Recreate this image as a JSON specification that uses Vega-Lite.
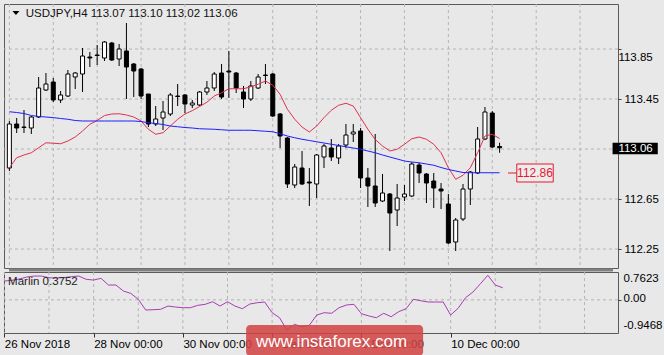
{
  "$schema": "https://vega.github.io/schema/vega-lite/v6.json",
  "background": "#e8e8e8",
  "padding": {"left": 3, "top": 3, "right": 0, "bottom": 0},
  "bounds": "flush",
  "spacing": 4,
  "config": {
    "view": {"stroke": "#5a5a5a", "strokeWidth": 1},
    "axis": {"labelFont": "Liberation Sans", "labelFontSize": 11.5, "labelColor": "#000000", "domain": false, "tickColor": "#444444", "tickWidth": 1, "labelOverlap": false},
    "text": {"font": "Liberation Sans"}
  },
  "datasets": {
    "grid": [{"g":0},{"g":6},{"g":12},{"g":18},{"g":24},{"g":30},{"g":36},{"g":42},{"g":48},{"g":54},{"g":60},{"g":66},{"g":72},{"g":78}],
    "hgrid": [{"p":112.25},{"p":112.65},{"p":113.05},{"p":113.45},{"p":113.85}],
    "bars": [
      {"i":0,"o":112.898,"h":113.274,"l":112.874,"c":113.250,"r":112.900,"b":113.348,"m":0.584},
      {"i":1,"o":113.250,"h":113.298,"l":113.178,"c":113.218,"r":112.980,"b":113.342,"m":0.606},
      {"i":2,"o":113.226,"h":113.362,"l":113.178,"c":113.222,"r":113.002,"b":113.334,"m":0.646},
      {"i":3,"o":113.218,"h":113.314,"l":113.170,"c":113.306,"r":113.020,"b":113.318,"m":0.708},
      {"i":4,"o":113.306,"h":113.626,"l":113.298,"c":113.538,"r":113.060,"b":113.310,"m":0.739},
      {"i":5,"o":113.522,"h":113.658,"l":113.514,"c":113.570,"r":113.100,"b":113.306,"m":0.739},
      {"i":6,"o":113.586,"h":113.618,"l":113.426,"c":113.442,"r":113.096,"b":113.301,"m":0.686},
      {"i":7,"o":113.442,"h":113.514,"l":113.418,"c":113.482,"r":113.092,"b":113.294,"m":0.677},
      {"i":8,"o":113.474,"h":113.682,"l":113.466,"c":113.650,"r":113.114,"b":113.288,"m":0.690},
      {"i":9,"o":113.626,"h":113.666,"l":113.530,"c":113.658,"r":113.146,"b":113.278,"m":0.720},
      {"i":10,"o":113.650,"h":113.858,"l":113.506,"c":113.794,"r":113.194,"b":113.274,"m":0.739},
      {"i":11,"o":113.786,"h":113.826,"l":113.706,"c":113.778,"r":113.248,"b":113.274,"m":0.637},
      {"i":12,"o":113.802,"h":113.882,"l":113.722,"c":113.798,"r":113.278,"b":113.274,"m":0.615},
      {"i":13,"o":113.778,"h":113.914,"l":113.754,"c":113.906,"r":113.318,"b":113.274,"m":0.668},
      {"i":14,"o":113.898,"h":113.906,"l":113.754,"c":113.762,"r":113.330,"b":113.274,"m":0.460},
      {"i":15,"o":113.770,"h":113.890,"l":113.714,"c":113.850,"r":113.332,"b":113.274,"m":0.460},
      {"i":16,"o":113.834,"h":114.058,"l":113.450,"c":113.706,"r":113.322,"b":113.274,"m":0.273},
      {"i":17,"o":113.730,"h":113.738,"l":113.466,"c":113.674,"r":113.306,"b":113.274,"m":0.200},
      {"i":18,"o":113.690,"h":113.698,"l":113.450,"c":113.474,"r":113.274,"b":113.270,"m":0.016},
      {"i":19,"o":113.490,"h":113.490,"l":113.226,"c":113.250,"r":113.208,"b":113.260,"m":-0.317},
      {"i":20,"o":113.250,"h":113.394,"l":113.234,"c":113.290,"r":113.168,"b":113.254,"m":-0.307},
      {"i":21,"o":113.298,"h":113.434,"l":113.202,"c":113.346,"r":113.180,"b":113.246,"m":-0.295},
      {"i":22,"o":113.330,"h":113.498,"l":113.314,"c":113.482,"r":113.234,"b":113.234,"m":-0.193},
      {"i":23,"o":113.474,"h":113.570,"l":113.394,"c":113.470,"r":113.288,"b":113.228,"m":-0.224},
      {"i":24,"o":113.482,"h":113.490,"l":113.338,"c":113.410,"r":113.330,"b":113.222,"m":-0.245},
      {"i":25,"o":113.402,"h":113.442,"l":113.378,"c":113.418,"r":113.357,"b":113.218,"m":-0.245},
      {"i":26,"o":113.402,"h":113.514,"l":113.394,"c":113.506,"r":113.390,"b":113.212,"m":-0.171},
      {"i":27,"o":113.506,"h":113.594,"l":113.482,"c":113.538,"r":113.424,"b":113.210,"m":-0.140},
      {"i":28,"o":113.538,"h":113.666,"l":113.514,"c":113.650,"r":113.474,"b":113.208,"m":-0.059},
      {"i":29,"o":113.658,"h":113.730,"l":113.450,"c":113.466,"r":113.500,"b":113.204,"m":-0.193},
      {"i":30,"o":113.674,"h":113.834,"l":113.458,"c":113.666,"r":113.532,"b":113.200,"m":-0.059},
      {"i":31,"o":113.658,"h":113.666,"l":113.498,"c":113.538,"r":113.532,"b":113.200,"m":-0.193},
      {"i":32,"o":113.506,"h":113.554,"l":113.378,"c":113.450,"r":113.532,"b":113.200,"m":-0.276},
      {"i":33,"o":113.450,"h":113.594,"l":113.434,"c":113.554,"r":113.548,"b":113.200,"m":-0.130},
      {"i":34,"o":113.538,"h":113.650,"l":113.530,"c":113.626,"r":113.568,"b":113.196,"m":-0.090},
      {"i":35,"o":113.642,"h":113.730,"l":113.570,"c":113.638,"r":113.594,"b":113.192,"m":-0.068},
      {"i":36,"o":113.650,"h":113.658,"l":113.306,"c":113.314,"r":113.560,"b":113.188,"m":-0.400},
      {"i":37,"o":113.330,"h":113.338,"l":113.058,"c":113.154,"r":113.488,"b":113.172,"m":-0.556},
      {"i":38,"o":113.138,"h":113.146,"l":112.738,"c":112.770,"r":113.368,"b":113.154,"m":-0.9468},
      {"i":39,"o":112.762,"h":112.930,"l":112.738,"c":112.906,"r":113.288,"b":113.140,"m":-0.761},
      {"i":40,"o":112.898,"h":113.034,"l":112.762,"c":112.770,"r":113.226,"b":113.128,"m":-0.835},
      {"i":41,"o":112.786,"h":112.898,"l":112.594,"c":112.778,"r":113.186,"b":113.118,"m":-0.792},
      {"i":42,"o":112.770,"h":113.010,"l":112.658,"c":113.002,"r":113.234,"b":113.108,"m":-0.472},
      {"i":43,"o":112.986,"h":113.090,"l":112.898,"c":113.074,"r":113.301,"b":113.098,"m":-0.400},
      {"i":44,"o":113.058,"h":113.130,"l":112.954,"c":112.986,"r":113.360,"b":113.088,"m":-0.419},
      {"i":45,"o":112.978,"h":113.090,"l":112.930,"c":113.074,"r":113.400,"b":113.078,"m":-0.245},
      {"i":46,"o":113.082,"h":113.250,"l":113.058,"c":113.162,"r":113.416,"b":113.068,"m":-0.160},
      {"i":47,"o":113.170,"h":113.250,"l":113.106,"c":113.186,"r":113.394,"b":113.058,"m":-0.140},
      {"i":48,"o":113.194,"h":113.218,"l":112.738,"c":112.818,"r":113.301,"b":113.048,"m":-0.432},
      {"i":49,"o":112.818,"h":112.898,"l":112.586,"c":112.754,"r":113.208,"b":113.034,"m":-0.500},
      {"i":50,"o":112.754,"h":113.170,"l":112.586,"c":112.618,"r":113.126,"b":113.020,"m":-0.556},
      {"i":51,"o":112.634,"h":112.850,"l":112.626,"c":112.698,"r":113.074,"b":113.002,"m":-0.419},
      {"i":52,"o":112.690,"h":112.698,"l":112.234,"c":112.538,"r":113.034,"b":112.986,"m":-0.525},
      {"i":53,"o":112.562,"h":112.770,"l":112.434,"c":112.658,"r":113.048,"b":112.970,"m":-0.370},
      {"i":54,"o":112.666,"h":112.762,"l":112.634,"c":112.690,"r":113.088,"b":112.954,"m":-0.276},
      {"i":55,"o":112.674,"h":112.946,"l":112.666,"c":112.930,"r":113.132,"b":112.946,"m":0.016},
      {"i":56,"o":112.922,"h":112.938,"l":112.778,"c":112.858,"r":113.146,"b":112.940,"m":-0.030},
      {"i":57,"o":112.850,"h":112.858,"l":112.618,"c":112.778,"r":113.128,"b":112.930,"m":-0.068},
      {"i":58,"o":112.794,"h":112.858,"l":112.578,"c":112.738,"r":113.088,"b":112.920,"m":-0.068},
      {"i":59,"o":112.730,"h":112.778,"l":112.570,"c":112.714,"r":113.020,"b":112.902,"m":-0.068},
      {"i":60,"o":112.610,"h":112.690,"l":112.290,"c":112.298,"r":112.900,"b":112.886,"m":-0.472},
      {"i":61,"o":112.306,"h":112.498,"l":112.234,"c":112.482,"r":112.808,"b":112.874,"m":-0.264},
      {"i":62,"o":112.490,"h":112.770,"l":112.474,"c":112.730,"r":112.840,"b":112.862,"m":0.065},
      {"i":63,"o":112.730,"h":112.874,"l":112.602,"c":112.866,"r":112.900,"b":112.860,"m":0.242},
      {"i":64,"o":112.858,"h":113.226,"l":112.850,"c":113.130,"r":113.020,"b":112.860,"m":0.500},
      {"i":65,"o":113.130,"h":113.386,"l":113.122,"c":113.346,"r":113.154,"b":112.860,"m":0.7623},
      {"i":66,"o":113.338,"h":113.354,"l":113.058,"c":113.066,"r":113.168,"b":112.860,"m":0.460},
      {"i":67,"o":113.07,"h":113.10,"l":113.02,"c":113.06,"r":113.134,"b":112.860,"m":0.3752}
    ]
  },
  "vconcat": [
    {
      "width": 614,
      "height": 264,
      "layer": [
        {
          "data": {"name": "grid"},
          "mark": {"type": "rule", "color": "#b4b4b4", "strokeWidth": 1, "strokeDash": [3, 3]},
          "encoding": {
            "x": {"field": "g", "type": "quantitative", "scale": {"domain": [-0.05, 82.5], "nice": false, "zero": false},
              "axis": {"title": null, "grid": false, "labels": false, "ticks": false, "domain": false}}
          }
        },
        {
          "data": {"name": "hgrid"},
          "mark": {"type": "rule", "color": "#b4b4b4", "strokeWidth": 1, "strokeDash": [3, 3]},
          "encoding": {
            "y": {"field": "p", "type": "quantitative", "scale": {"domain": [112.098, 114.21], "nice": false, "zero": false},
              "axis": {"title": null, "orient": "right", "values": [112.25, 112.65, 113.05, 113.45, 113.85], "grid": false, "ticks": true, "tickSize": 3, "labelPadding": 3,
                "labelExpr": "(datum.value > 113.0 && datum.value < 113.1) || datum.value > 113.8 ? '' : format(datum.value, '.2f')"}}
          }
        },
        {
          "data": {"name": "bars"},
          "mark": {"type": "rule", "color": "#000000", "strokeWidth": 1, "clip": true},
          "encoding": {
            "x": {"field": "i", "type": "quantitative"},
            "y": {"field": "l", "type": "quantitative"},
            "y2": {"field": "h"}
          }
        },
        {
          "data": {"name": "bars"},
          "mark": {"type": "bar", "width": 4, "stroke": "#000000", "strokeWidth": 1, "clip": true},
          "encoding": {
            "x": {"field": "i", "type": "quantitative"},
            "y": {"field": "o", "type": "quantitative"},
            "y2": {"field": "c"},
            "fill": {"condition": {"test": "datum.c >= datum.o", "value": "#ffffff"}, "value": "#000000"}
          }
        },
        {
          "data": {"name": "bars"},
          "mark": {"type": "line", "color": "#e0304e", "strokeWidth": 1, "clip": true},
          "encoding": {
            "x": {"field": "i", "type": "quantitative"},
            "y": {"field": "r", "type": "quantitative"}
          }
        },
        {
          "data": {"name": "bars"},
          "mark": {"type": "line", "color": "#1e1eff", "strokeWidth": 1, "clip": true},
          "encoding": {
            "x": {"field": "i", "type": "quantitative"},
            "y": {"field": "b", "type": "quantitative"}
          }
        },
        {
          "data": {"values": [{}]},
          "mark": {"type": "rule", "color": "#e8162e", "strokeWidth": 1},
          "encoding": {
            "x": {"datum": 68.15, "type": "quantitative"},
            "x2": {"datum": 69.35},
            "y": {"datum": 112.858, "type": "quantitative"}
          }
        },
        {
          "data": {"values": [{}]},
          "mark": {"type": "rect", "fill": "#ececec", "stroke": "#e8162e", "strokeWidth": 1},
          "encoding": {
            "x": {"datum": 69.35, "type": "quantitative"},
            "x2": {"datum": 74.33},
            "y": {"datum": 112.786, "type": "quantitative"},
            "y2": {"datum": 112.93}
          }
        },
        {
          "data": {"values": [{}]},
          "mark": {"type": "text", "text": "112.86", "color": "#e8162e", "fontSize": 12, "align": "center", "baseline": "middle"},
          "encoding": {
            "x": {"datum": 71.84, "type": "quantitative"},
            "y": {"datum": 112.858, "type": "quantitative"}
          }
        },
        {
          "data": {"values": [{}]},
          "mark": {"type": "point", "shape": "M-1,-0.6L1,-0.6L0,0.6Z", "size": 49, "filled": true, "color": "#000000", "opacity": 1},
          "encoding": {
            "x": {"datum": 0.9, "type": "quantitative"},
            "y": {"datum": 114.138, "type": "quantitative"}
          }
        },
        {
          "data": {"values": [{}]},
          "mark": {"type": "text", "text": "USDJPY,H4 113.07 113.10 113.02 113.06", "color": "#111111", "fontSize": 11.5, "align": "left", "baseline": "middle"},
          "encoding": {
            "x": {"datum": 2.24, "type": "quantitative"},
            "y": {"datum": 114.134, "type": "quantitative"}
          }
        },
        {
          "data": {"values": [{}]},
          "mark": {"type": "text", "text": "113.85", "color": "#000000", "fontSize": 11.5, "align": "left", "baseline": "middle", "clip": false},
          "encoding": {
            "x": {"datum": 83.24, "type": "quantitative"},
            "y": {"datum": 113.778, "type": "quantitative"}
          }
        },
        {
          "data": {"values": [{}]},
          "mark": {"type": "rect", "fill": "#000000", "clip": false},
          "encoding": {
            "x": {"datum": 82.44, "type": "quantitative"},
            "x2": {"datum": 88.62},
            "y": {"datum": 113.100, "type": "quantitative"},
            "y2": {"datum": 113.008}
          }
        },
        {
          "data": {"values": [{}]},
          "mark": {"type": "text", "text": "113.06", "color": "#ffffff", "fontSize": 11.5, "align": "left", "baseline": "middle", "clip": false},
          "encoding": {
            "x": {"datum": 83.24, "type": "quantitative"},
            "y": {"datum": 113.054, "type": "quantitative"}
          }
        },
        {
          "data": {"values": [{}]},
          "mark": {"type": "rule", "color": "#808080", "strokeWidth": 3, "clip": false},
          "encoding": {
            "x": {"datum": -0.05, "type": "quantitative"},
            "x2": {"datum": 82.5},
            "y": {"datum": 112.082, "type": "quantitative"}
          }
        }
      ]
    },
    {
      "width": 614,
      "height": 61,
      "layer": [
        {
          "data": {"name": "grid"},
          "mark": {"type": "rule", "color": "#b4b4b4", "strokeWidth": 1, "strokeDash": [3, 3]},
          "encoding": {
            "x": {"field": "g", "type": "quantitative", "scale": {"domain": [-0.05, 82.5], "nice": false, "zero": false},
              "axis": {"title": null, "orient": "bottom", "values": [0, 6, 12, 18, 24, 30, 36, 42, 48, 54, 60, 66, 72, 78], "grid": false, "labels": true, "ticks": true, "tickSize": 4,
                "tickColor": {"condition": {"test": "datum.value % 12 == 0 && datum.value <= 60", "value": "#333333"}, "value": "transparent"},
                "labelExpr": "datum.value == 0 ? '26 Nov 2018' : datum.value == 12 ? '28 Nov 00:00' : datum.value == 24 ? '30 Nov 00:00' : datum.value == 36 ? '4 Dec 00:00' : datum.value == 48 ? '6 Dec 00:00' : datum.value == 60 ? '10 Dec 00:00' : ''",
                "labelAlign": "left", "labelPadding": 1, "labelFlush": false, "labelOverlap": false, "domain": false}}
          }
        },
        {
          "data": {"values": [{}]},
          "mark": {"type": "rule", "color": "#b4b4b4", "strokeWidth": 1, "strokeDash": [3, 3]},
          "encoding": {
            "y": {"datum": 0, "type": "quantitative", "scale": {"domain": [-1.031, 0.865], "nice": false, "zero": false},
              "axis": {"title": null, "orient": "right", "values": [0.0001], "grid": false, "labels": false,
                "tickSize": 3, "labelFlush": false, "labelOverlap": false}}
          }
        },
        {
          "data": {"name": "bars"},
          "mark": {"type": "line", "color": "#a83cb4", "strokeWidth": 1, "clip": true},
          "encoding": {
            "x": {"field": "i", "type": "quantitative"},
            "y": {"field": "m", "type": "quantitative"}
          }
        },
        {
          "data": {"values": [{}]},
          "mark": {"type": "text", "text": "0.7623", "color": "#000000", "fontSize": 11.5, "align": "left", "baseline": "middle", "clip": false},
          "encoding": {
            "x": {"datum": 83.24, "type": "quantitative"},
            "y": {"datum": 0.647, "type": "quantitative"}
          }
        },
        {
          "data": {"values": [{}]},
          "mark": {"type": "text", "text": "0.00", "color": "#000000", "fontSize": 11.5, "align": "left", "baseline": "middle", "clip": false},
          "encoding": {
            "x": {"datum": 83.24, "type": "quantitative"},
            "y": {"datum": 0.02, "type": "quantitative"}
          }
        },
        {
          "data": {"values": [{}]},
          "mark": {"type": "text", "text": "-0.9468", "color": "#000000", "fontSize": 11.5, "align": "left", "baseline": "middle", "clip": false},
          "encoding": {
            "x": {"datum": 83.24, "type": "quantitative"},
            "y": {"datum": -0.813, "type": "quantitative"}
          }
        },
        {
          "data": {"values": [{}]},
          "mark": {"type": "text", "text": "Marlin 0.3752", "color": "#222222", "fontSize": 11.5, "align": "left", "baseline": "middle"},
          "encoding": {
            "x": {"datum": 0.5, "type": "quantitative"},
            "y": {"datum": 0.5635, "type": "quantitative"}
          }
        },
        {
          "data": {"values": [{}]},
          "mark": {"type": "rect", "fill": "#d24444", "opacity": 0.86, "cornerRadius": 4, "clip": false},
          "encoding": {
            "x": {"datum": 32.5, "type": "quantitative"},
            "x2": {"datum": 56.3},
            "y": {"datum": -0.782, "type": "quantitative"},
            "y2": {"datum": -1.746}
          }
        },
        {
          "data": {"values": [{}]},
          "mark": {"type": "text", "text": "www.instaforex.com", "color": "#ffffff", "fontSize": 17, "align": "left", "baseline": "middle", "clip": false},
          "encoding": {
            "x": {"datum": 33.83, "type": "quantitative"},
            "y": {"datum": -1.311, "type": "quantitative"}
          }
        }
      ]
    }
  ]
}
